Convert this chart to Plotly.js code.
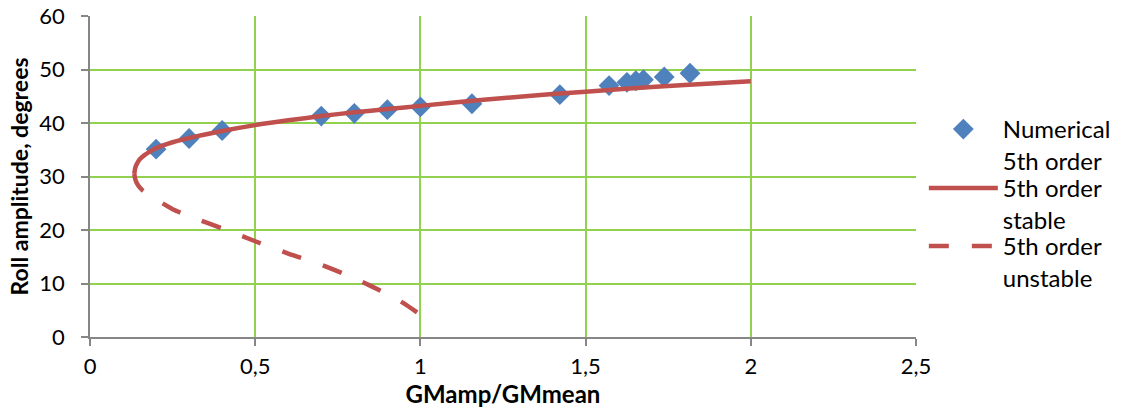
<!DOCTYPE html>
<html>
<head>
<meta charset="utf-8">
<script src="https://cdn.plot.ly/plotly-3.0.1.min.js"></script>
<style>html,body{margin:0;padding:0;background:#fff;}#chart{width:1123px;height:414px;}</style>
</head>
<body>
<div id="chart"></div>
<script>
// Numerical results
const numX = [0.2, 0.3, 0.4, 0.7, 0.8, 0.9, 1.0, 1.156, 1.422, 1.571, 1.625, 1.652, 1.675, 1.738, 1.816];
const numY = [35.1, 37.1, 38.6, 41.3, 41.8, 42.5, 43.0, 43.6, 45.3, 47.0, 47.6, 47.9, 48.1, 48.6, 49.3];

// 5th order stable branch
const stableX = [0.134, 0.137, 0.143, 0.152, 0.165, 0.18, 0.2, 0.25, 0.3, 0.4, 0.5, 0.6, 0.7, 0.8, 0.9, 1.0, 1.2, 1.4, 1.6, 1.8, 2.0];
const stableY = [30.5, 31.6, 32.5, 33.3, 34.0, 34.6, 35.3, 36.4, 37.2, 38.5, 39.6, 40.5, 41.3, 42.0, 42.6, 43.2, 44.4, 45.4, 46.3, 47.1, 47.8];

// 5th order unstable branch
const unstableX = [0.134, 0.138, 0.146, 0.159, 0.18, 0.2, 0.25, 0.3, 0.4, 0.5, 0.6, 0.7, 0.8, 0.9, 0.95, 0.99];
const unstableY = [30.5, 29.3, 28.3, 27.4, 26.5, 25.7, 23.9, 22.6, 20.3, 17.9, 15.6, 13.5, 11.0, 8.0, 6.3, 4.6];

const xTicks = [0, 0.5, 1, 1.5, 2, 2.5];
const xTickLabels = ['0', '0,5', '1', '1,5', '2', '2,5'];
const yTicks = [0, 10, 20, 30, 40, 50, 60];

const names = ['Numerical<br>5th order', '5th order<br>stable', '5th order<br>unstable'];

const FONT = 'Lato, "Open Sans", sans-serif';
const red = '#C0504D';

const traces = [
  {x: numX, y: numY, name: names[0], type: 'scatter', mode: 'markers', legend: 'legend',
   marker: {symbol: 'diamond', size: 16, color: '#4F81BD'}},
  {x: stableX, y: stableY, name: names[1], type: 'scatter', mode: 'lines', legend: 'legend2',
   line: {color: red, width: 4.5, shape: 'spline', smoothing: 0.6}},
  {x: unstableX, y: unstableY, name: names[2], type: 'scatter', mode: 'lines', legend: 'legend3',
   line: {color: red, width: 4.5, dash: '20px,23px', shape: 'spline', smoothing: 0.6}}
];

function leg(y) {
  return {
    x: 1.0095, xanchor: 'left', y: y, yanchor: 'top',
    font: {family: FONT, size: 24, color: '#000'},
    valign: 'top', itemwidth: 69,
    bgcolor: 'rgba(0,0,0,0)'
  };
}

const layout = {
  width: 1123, height: 414,
  margin: {l: 90, r: 207, t: 16, b: 77, autoexpand: false},
  paper_bgcolor: '#fff', plot_bgcolor: '#fff',
  font: {family: FONT, size: 22, color: '#000'},
  showlegend: true,
  legend: leg(0.7165),
  legend2: leg(0.5327),
  legend3: leg(0.352),
  xaxis: {
    range: [0, 2.5], tickvals: xTicks, ticktext: xTickLabels,
    showgrid: true, gridcolor: '#92D050', gridwidth: 1.5,
    showline: true, linecolor: '#868686', linewidth: 1.5,
    ticks: 'outside', ticklen: 7, tickcolor: '#868686', tickwidth: 1.5,
    zeroline: false, ticklabelstandoff: 2,
    tickfont: {family: FONT, size: 22, color: '#000'},
    title: {text: '<b>GMamp/GMmean</b>', font: {family: FONT, size: 24, color: '#000'}, standoff: 6}
  },
  yaxis: {
    range: [0, 60], tickvals: yTicks,
    showgrid: true, gridcolor: '#92D050', gridwidth: 1.5,
    showline: true, linecolor: '#868686', linewidth: 1.5,
    ticks: 'outside', ticklen: 7, tickcolor: '#868686', tickwidth: 1.5,
    zeroline: false, ticklabelstandoff: 12,
    tickfont: {family: FONT, size: 22, color: '#000'},
    title: {text: '<b>Roll amplitude, degrees</b>', font: {family: FONT, size: 23, color: '#000'}, standoff: 4}
  }
};

Plotly.newPlot('chart', traces, layout, {displayModeBar: false, responsive: false});
</script>
</body>
</html>
